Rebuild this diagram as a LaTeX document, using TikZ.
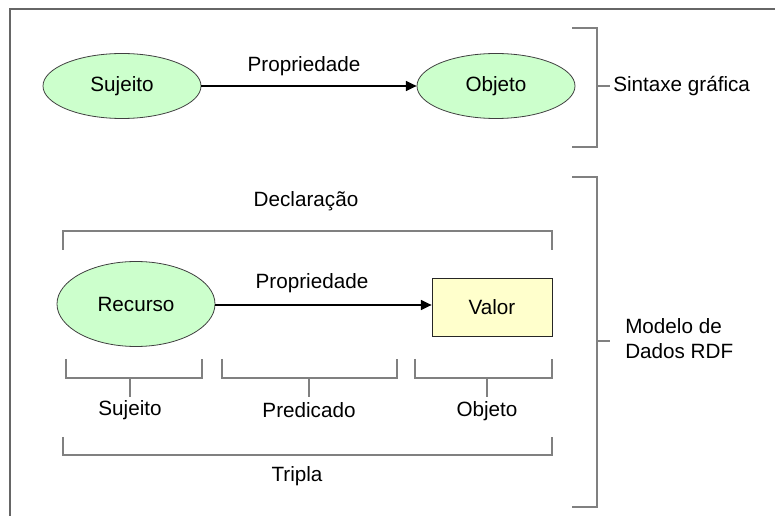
\documentclass[tikz,border=0pt]{standalone}
\usepackage{fontspec}
\setmainfont{Liberation Sans}
\usetikzlibrary{shapes.geometric,arrows.meta}
\definecolor{ellfill}{HTML}{CCFFCC}
\definecolor{boxfill}{HTML}{FFFFCC}
\definecolor{brk}{HTML}{808080}
\begin{document}
\begin{tikzpicture}[x=0.75pt,y=-0.75pt,
  every node/.style={font=\fontsize{15.5pt}{18.75pt}\selectfont, inner sep=0pt},
  ell/.style={ellipse, draw=black!75, line width=0.6pt, fill=ellfill, minimum width=118.5pt},
  valbox/.style={rectangle, draw=black!85, line width=0.6pt, fill=boxfill, minimum width=90pt, minimum height=43.5pt},
  arr/.style={line width=1.1pt, -{Triangle[length=8pt,width=7.5pt]}},
  brace/.style={draw=brk, line width=1.1pt},
  frame/.style={draw=black!60, line width=1.1pt}]
\useasboundingbox (0,0) rectangle (775,516);
% frame
\draw[frame] (10,516) -- (10,9) -- (775,9);
% top graph
\node[ell, minimum height=48.75pt] (suj) at (122,86) {Sujeito};
\node[ell, minimum height=48.75pt] (obj) at (496,86) {Objeto};
\draw[arr] (suj) -- (obj);
\node (p1) at (304,66) {Propriedade};
% right bracket top
\draw[brace] (572,28) -- (597,28) -- (597,147) -- (572,147);
\draw[brace] (597,86) -- (610,86);
\node[anchor=west] (sint) at (613,86) {Sintaxe gráfica};
% right bracket bottom
\draw[brace] (572,177) -- (597,177) -- (597,507) -- (572,507);
\draw[brace] (597,341) -- (610,341);
\node[anchor=west, align=left] (mod) at (625,339) {Modelo de\\Dados RDF};
% declaracao
\node (decl) at (306,201) {Declaração};
\draw[brace] (63,250) -- (63,231) -- (552,231) -- (552,250);
% lower graph
\node[ell, minimum height=63.75pt] (rec) at (136,304) {Recurso};
\node[valbox] (val) at (492,307) {Valor};
\draw[arr] (rec.east |- 0,305) coordinate (a0) -- (val.west |- a0);
\node (p2) at (312,283) {Propriedade};
% small brackets
\draw[brace] (66,359) -- (66,378) -- (202,378) -- (202,359);
\draw[brace] (130,378) -- (130,397);
\draw[brace] (222,359) -- (222,378) -- (397,378) -- (397,359);
\draw[brace] (309,378) -- (309,397);
\draw[brace] (415,359) -- (415,378) -- (552,378) -- (552,359);
\draw[brace] (487,378) -- (487,397);
\node (s2) at (130,410) {Sujeito};
\node (pred) at (309,410) {Predicado};
\node (o2) at (487,411) {Objeto};
% tripla
\draw[brace] (63,437) -- (63,455) -- (552,455) -- (552,437);
\node (tri) at (297,476) {Tripla};
\end{tikzpicture}
\end{document}
